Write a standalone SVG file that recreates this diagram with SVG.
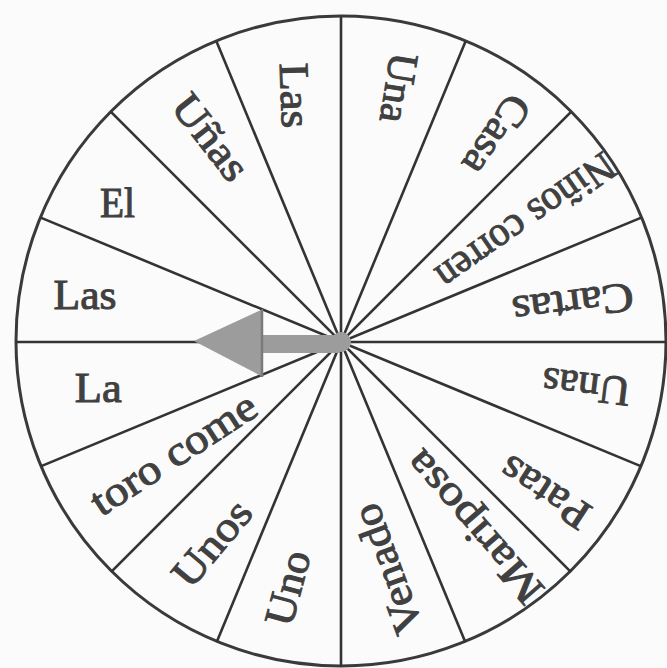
<svg xmlns="http://www.w3.org/2000/svg" width="667" height="668" viewBox="0 0 667 668">
<style>
.bg{fill:#fbfbfb}
.rim{fill:none;stroke:#3a3a3a;stroke-width:3}
.spoke{stroke:#333;stroke-width:2.6;fill:none}
.lbl{font-family:"Liberation Serif","Times New Roman",serif;font-size:42px;fill:#404040;text-anchor:middle;stroke:#404040;stroke-width:1}
.arrow{fill:#9c9c9c}
</style>
<rect class="bg" x="0" y="0" width="667" height="668"/>
<circle class="rim" cx="341" cy="341" r="325"/>
<g id="connectors">
<line class="spoke" x1="16" y1="342" x2="666" y2="342"/>
<line class="spoke" x1="341" y1="17" x2="341" y2="667"/>
<line class="spoke" x1="641.3" y1="217.6" x2="40.7" y2="466.4"/>
<line class="spoke" x1="570.8" y1="112.2" x2="111.2" y2="571.8"/>
<line class="spoke" x1="465.4" y1="41.7" x2="216.6" y2="642.3"/>
<line class="spoke" x1="216.6" y1="41.7" x2="465.4" y2="642.3"/>
<line class="spoke" x1="111.2" y1="112.2" x2="570.8" y2="571.8"/>
<line class="spoke" x1="40.7" y1="217.6" x2="641.3" y2="466.4"/>
</g>
<g id="seg-las-top" transform="translate(295,95.5) rotate(88)"><text class="lbl" x="0" y="14" textLength="65" lengthAdjust="spacingAndGlyphs">Las</text></g>
<g id="seg-una" transform="translate(399,88) rotate(99)"><text class="lbl" x="0" y="14" textLength="70" lengthAdjust="spacingAndGlyphs">Una</text></g>
<g id="seg-casa" transform="translate(497,135) rotate(124)"><text class="lbl" x="0" y="14" textLength="88" lengthAdjust="spacingAndGlyphs">Casa</text></g>
<g id="seg-ninos" transform="translate(526,221.7) rotate(145)"><text class="lbl" x="0" y="14" textLength="208" lengthAdjust="spacingAndGlyphs">Niños corren</text></g>
<g id="seg-cartas" transform="translate(573,304) rotate(173)"><text class="lbl" x="0" y="14" textLength="122" lengthAdjust="spacingAndGlyphs">Cartas</text></g>
<g id="seg-unas" transform="translate(586,387) rotate(187)"><text class="lbl" x="0" y="14" textLength="88" lengthAdjust="spacingAndGlyphs">Unas</text></g>
<g id="seg-patas" transform="translate(544.6,492.8) rotate(213)"><text class="lbl" x="0" y="14" textLength="100" lengthAdjust="spacingAndGlyphs">Patas</text></g>
<g id="seg-mariposa" transform="translate(473.8,527.2) rotate(229)"><text class="lbl" x="0" y="14" textLength="188" lengthAdjust="spacingAndGlyphs">Mariposa</text></g>
<g id="seg-venado" transform="translate(387.3,569) rotate(250)"><text class="lbl" x="0" y="14" textLength="135" lengthAdjust="spacingAndGlyphs">Venado</text></g>
<g id="seg-uno" transform="translate(287.6,588) rotate(-75)"><text class="lbl" x="0" y="14" textLength="76" lengthAdjust="spacingAndGlyphs">Uno</text></g>
<g id="seg-unos" transform="translate(211.8,543.2) rotate(-50)"><text class="lbl" x="0" y="14" textLength="100" lengthAdjust="spacingAndGlyphs">Unos</text></g>
<g id="seg-toro" transform="translate(173.2,453.7) rotate(-33)"><text class="lbl" x="0" y="14" textLength="190" lengthAdjust="spacingAndGlyphs">toro come</text></g>
<g id="seg-la" transform="translate(98.3,387.5)"><text class="lbl" x="0" y="14" textLength="47" lengthAdjust="spacingAndGlyphs">La</text></g>
<g id="seg-las-left" transform="translate(85,295)"><text class="lbl" x="0" y="14" textLength="63" lengthAdjust="spacingAndGlyphs">Las</text></g>
<g id="seg-el" transform="translate(117.5,202.5)"><text class="lbl" x="0" y="14" textLength="35" lengthAdjust="spacingAndGlyphs">El</text></g>
<g id="seg-unas-ene" transform="translate(210.8,137.1) rotate(52)"><text class="lbl" x="0" y="14" textLength="98" lengthAdjust="spacingAndGlyphs">Uñas</text></g>
<g id="pointer">
<rect class="arrow" x="262" y="335" width="78" height="18"/>
<polygon class="arrow" points="263,309 194,341 263,377"/>
<line x1="262" y1="310" x2="262" y2="377" stroke="#7a7a7a" stroke-width="2.5"/>
<circle class="arrow" cx="341" cy="342" r="10"/>
</g>
</svg>
